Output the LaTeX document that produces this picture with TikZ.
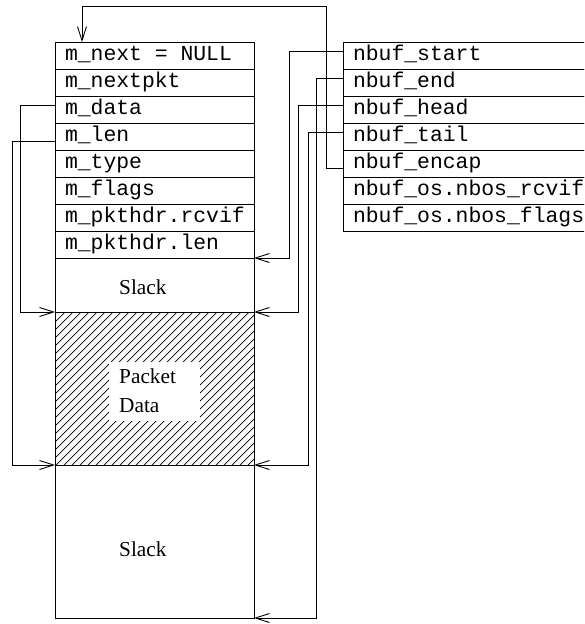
\documentclass[tikz,border=0pt]{standalone}
\usepackage{fontspec}
\setmainfont{Liberation Serif}
\setmonofont{Liberation Mono}
\usetikzlibrary{arrows.meta}

% one full monospace cell of blank space
\newcommand{\mspc}{\hspace{0.6em}}

\begin{document}
\begin{tikzpicture}[x=1pt,y=-1pt,
  fld/.style={draw, line width=0.9pt, outer sep=0pt, inner xsep=10pt, inner ysep=0pt,
    text height=18pt, text depth=9pt, anchor=north west, align=left,
    font=\fontsize{21.4}{25}\selectfont\ttfamily},
  mfld/.style={fld, text width=179pt},
  nfld/.style={fld, text width=250pt},
  area/.style={draw, line width=0.9pt, outer sep=0pt, inner sep=0pt,
    anchor=north west, minimum width=199pt},
  lbl/.style={anchor=base west, inner sep=0pt, font=\fontsize{21.3}{25}\selectfont},
  ptr/.style={line width=0.9pt, -{Straight Barb[length=14pt,width=9pt]}},
  hatch/.style={line width=0.7pt},
]
\useasboundingbox (0,0) rectangle (584,624);
\clip (0,0) rectangle (584,624);

% hatched packet data area with a cleared spot for its label
\begin{scope}
  \clip (55,312) rectangle (254,465);
  \foreach \i in {-160,-152,...,260}
    \draw[hatch] (\i,465) -- ++(153,-153);
\end{scope}
\fill[white] (109,362) rectangle (200,421);

% mbuf header fields
\node[mfld] (mnext)   at (55,42)  {m\_next\mspc=\mspc NULL};
\node[mfld] (mnxtpkt) at (55,69)  {m\_nextpkt};
\node[mfld] (mdata)   at (55,96)  {m\_data};
\node[mfld] (mlen)    at (55,123) {m\_len};
\node[mfld] (mtype)   at (55,150) {m\_type};
\node[mfld] (mflags)  at (55,177) {m\_flags};
\node[mfld] (mrcvif)  at (55,204) {m\_pkthdr.rcvif};
\node[mfld] (mplen)   at (55,231) {m\_pkthdr.len};

% data buffer regions
\node[area, minimum height=54pt]  (slackA) at (55,258) {};
\node[area, minimum height=153pt] (pdata)  at (55,312) {};
\node[area, minimum height=153pt] (slackB) at (55,465) {};

\node[lbl] (slackAtxt) at (119,294) {Slack};
\node[lbl] (pkttxt)    at (119,383) {Packet};
\node[lbl] (dattxt)    at (119,412) {Data};
\node[lbl] (slackBtxt) at (119,556) {Slack};

% nbuf fields
\node[nfld] (nstart) at (343,42)  {nbuf\_start};
\node[nfld] (nend)   at (343,69)  {nbuf\_end};
\node[nfld] (nhead)  at (343,96)  {nbuf\_head};
\node[nfld] (ntail)  at (343,123) {nbuf\_tail};
\node[nfld] (nencap) at (343,150) {nbuf\_encap};
\node[nfld] (nrcvif) at (343,177) {nbuf\_os.nbos\_rcvif};
\node[nfld] (nflags) at (343,204) {nbuf\_os.nbos\_flags};

% pointers
\draw[ptr] ([yshift=-9pt]mdata.north west) -- ++(-35,0) |- (pdata.north west);
\draw[ptr] ([yshift=-18pt]mlen.north west) -- ++(-43,0) |- (pdata.south west);

\draw[ptr] ([yshift=-9pt]nstart.north west) -- ++(-54,0) |- (slackA.north east);
\draw[ptr] ([yshift=-9pt]nend.north west)   -- ++(-27,0) |- (slackB.south east);
\draw[ptr] ([yshift=-9pt]nhead.north west)  -- ++(-45,0) |- (pdata.north east);
\draw[ptr] ([yshift=-9pt]ntail.north west)  -- ++(-35,0) |- (pdata.south east);

\coordinate (mnexttop) at ([xshift=27pt]mnext.north west);
\draw[ptr] ([yshift=-18pt]nencap.north west) -- ++(-17,0)
  |- ([yshift=36pt]mnexttop) -- (mnexttop);
\end{tikzpicture}
\end{document}
